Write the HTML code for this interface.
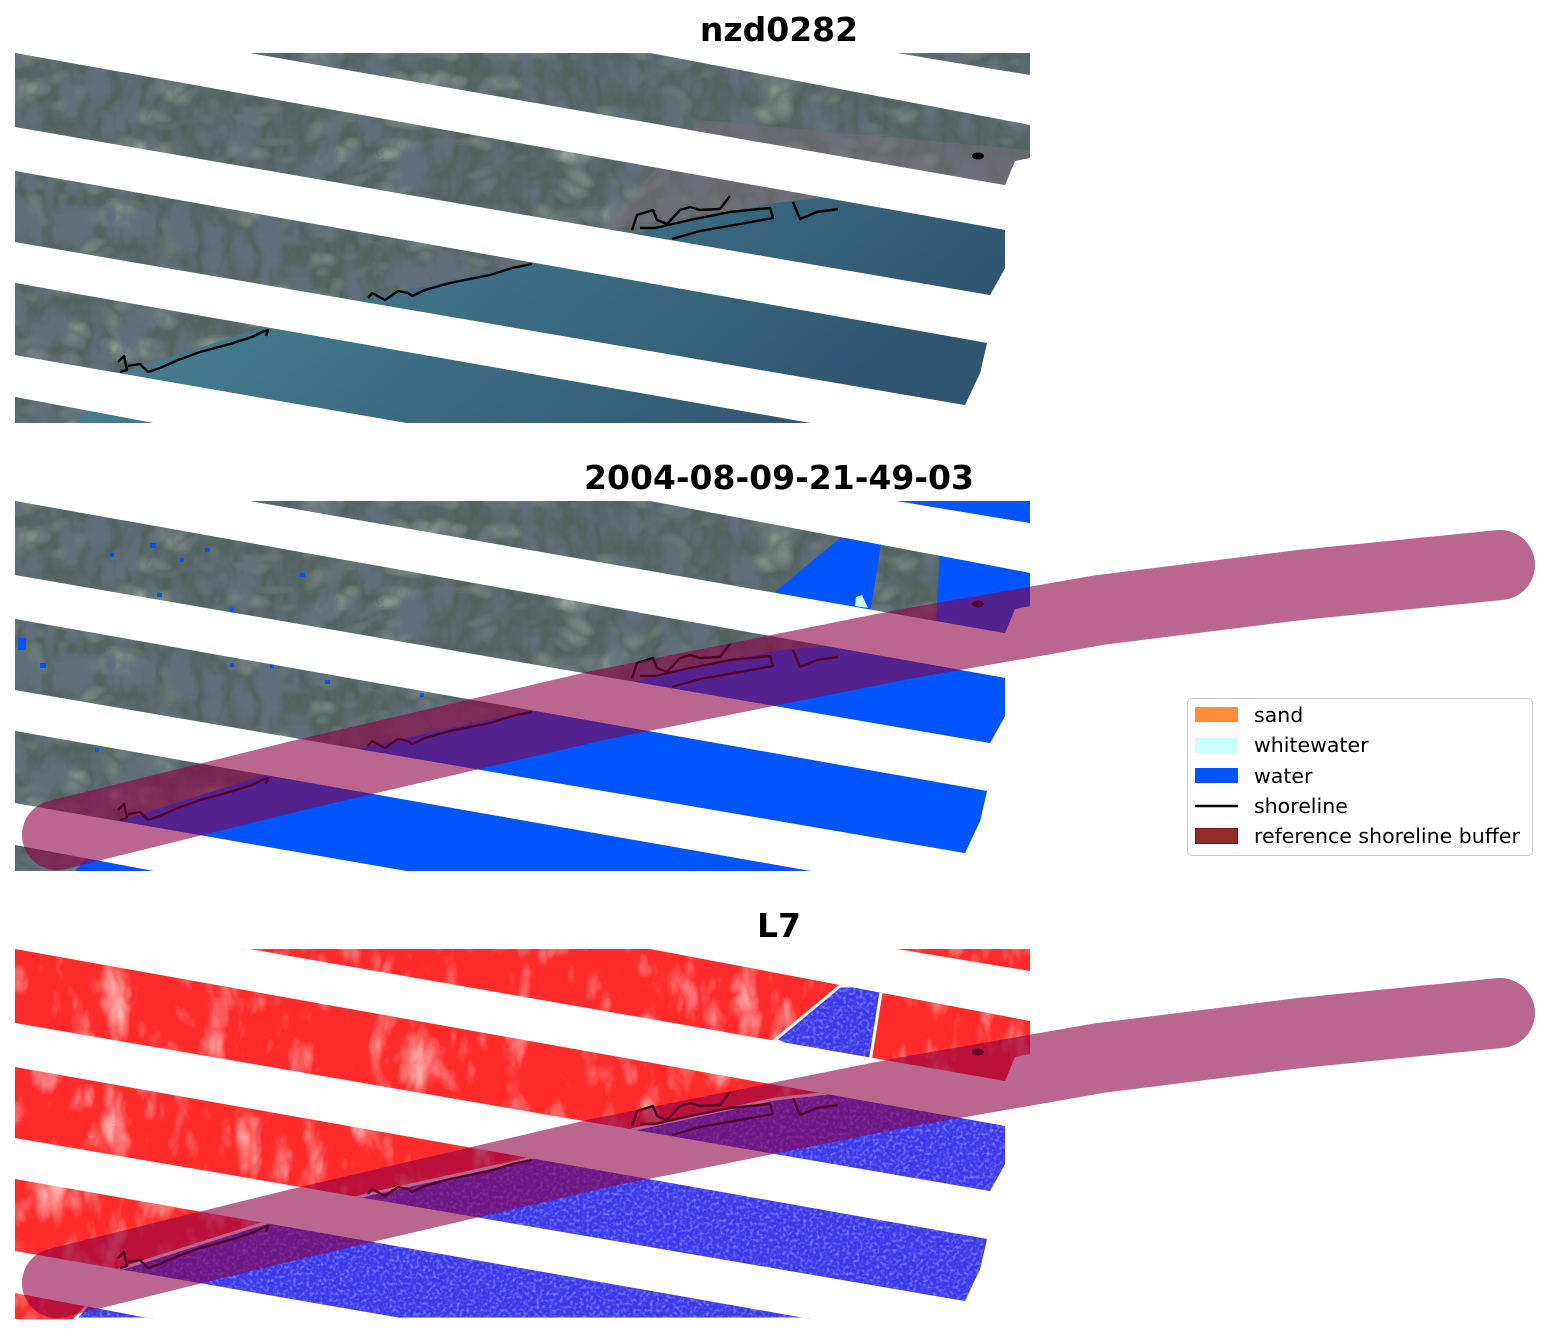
<!DOCTYPE html>
<html><head><meta charset="utf-8"><style>
html,body{margin:0;padding:0;background:#fff;}
svg{display:block;}
text{font-family:"DejaVu Sans","Liberation Sans",sans-serif;}
</style></head><body>
<svg width="1558" height="1337" viewBox="0 0 1558 1337" xmlns="http://www.w3.org/2000/svg">
<defs>
<clipPath id="bands">
<polygon points="897,53 1030,53 1030,75"/>
<polygon points="650,53 1030,125 1030,158 1015,161 1005,185 250,53"/>
<polygon points="15,50 15,53 1005,230 1005,268 990,295 15,127"/>
<polygon points="15,171 987,343 980,373 965,405 15,242"/>
<polygon points="15,283 810,423 407,423 15,355"/>
<polygon points="15,397 153,423 15,423"/>
</clipPath>
<clipPath id="seaClip">
<polygon points="75,423 120,373 255,330 370,298 520,265 635,233 775,203 865,193 1030,188 1030,423"/>
<polygon points="840,90 882,90 870,166 800,154 775,144"/>
</clipPath>
<filter id="dark" x="0" y="0" width="100%" height="100%">
<feTurbulence type="turbulence" baseFrequency="0.035 0.02" numOctaves="3" seed="4"/>
<feColorMatrix type="matrix" values="0 0 0 0 0.12  0 0 0 0 0.16  0 0 0 0 0.2  2.0 0 0 0 -0.1"/>
</filter>
<filter id="bright" x="0" y="0" width="100%" height="100%">
<feTurbulence type="turbulence" baseFrequency="0.02 0.03" numOctaves="2" seed="11"/>
<feColorMatrix type="matrix" values="0 0 0 0 0.55  0 0 0 0 0.62  0 0 0 0 0.5  1.2 0 0 0 -0.3"/>
</filter>
<filter id="light" x="0" y="0" width="100%" height="100%">
<feTurbulence type="turbulence" baseFrequency="0.03 0.015" numOctaves="3" seed="9"/>
<feColorMatrix type="matrix" values="0 0 0 0 1  0 0 0 0 1  0 0 0 0 1  1.2 0 0 0 -0.35"/>
</filter>
<filter id="fine" x="0" y="0" width="100%" height="100%">
<feTurbulence type="fractalNoise" baseFrequency="0.3" numOctaves="2" seed="2"/>
<feColorMatrix type="matrix" values="0 0 0 0 0.8  0 0 0 0 0.8  0 0 0 0 1  1.0 0 0 0 -0.45"/>
</filter>
<linearGradient id="seaG" x1="0" y1="0" x2="1" y2="0.3">
<stop offset="0" stop-color="#4f8c98"/><stop offset="0.5" stop-color="#3d6f86"/><stop offset="1" stop-color="#2f5571"/>
</linearGradient>
<g id="shore" fill="none" stroke="#000" stroke-width="2.4" stroke-linejoin="round">
<path d="M118,362 L124,356 L127,370 L120,372 M128,366 L140,364 L148,372 L160,368 L178,360 L200,352 L230,344 L252,337 L262,332 L268,330 L266,336"/>
<path d="M368,298 L372,293 L385,300 L398,291 L408,293 L412,296 L425,290 L450,283 L490,275 L512,268 L532,264"/>
<path d="M632,230 L637,215 L653,210 L657,220 L667,224 L680,210 L690,207 L700,210 L720,209 L730,196 M640,228 L655,228 L690,220 L730,212 L770,208 L773,218 L740,224 L700,231 L672,239"/>
<path d="M793,202 L800,219 L817,212 L838,209"/>
</g>
</defs>

<text x="779" y="41" text-anchor="middle" font-size="33" font-weight="bold">nzd0282</text>
<text x="779" y="489" text-anchor="middle" font-size="33" font-weight="bold">2004-08-09-21-49-03</text>
<text x="779" y="937" text-anchor="middle" font-size="33" font-weight="bold">L7</text>

<!-- Panel 1 -->
<g>
<g clip-path="url(#bands)">
<rect x="15" y="53" width="1015" height="370" fill="#51625c"/>
<rect x="15" y="53" width="1015" height="370" filter="url(#bright)"/>
<rect x="15" y="53" width="1015" height="370" filter="url(#dark)"/>
<polygon points="700,120 1030,150 1030,190 800,200 600,230" fill="#7a6e78" opacity="0.5"/>
<polygon points="75,423 120,373 255,330 370,298 520,265 635,233 775,203 865,193 1030,188 1030,423" fill="url(#seaG)"/>
</g>
<use href="#shore"/>
<ellipse cx="978" cy="156" rx="6" ry="3.5" fill="#000"/>
</g>

<!-- Panel 2 -->
<g transform="translate(0,448)">
<g clip-path="url(#bands)">
<rect x="15" y="53" width="1015" height="370" fill="#51625c"/>
<rect x="15" y="53" width="1015" height="370" filter="url(#bright)"/>
<rect x="15" y="53" width="1015" height="370" filter="url(#dark)"/>
<polygon points="75,423 120,373 255,330 370,298 520,265 635,233 775,203 865,193 1030,188 1030,423" fill="#0055ff"/>
<polygon points="840,90 882,90 870,166 800,154 775,144" fill="#0055ff"/>
<polygon points="940,100 1030,100 1030,200 935,192" fill="#0055ff"/>
<polygon points="880,53 1030,53 1030,80" fill="#0055ff"/>
<g fill="#0055ff">
<rect x="150" y="95" width="6" height="5"/><rect x="205" y="100" width="5" height="4"/><rect x="180" y="110" width="4" height="4"/>
<rect x="300" y="125" width="5" height="4"/><rect x="230" y="160" width="4" height="6"/><rect x="110" y="105" width="4" height="4"/>
<rect x="18" y="190" width="8" height="12"/><rect x="40" y="215" width="6" height="5"/><rect x="230" y="215" width="4" height="4"/>
<rect x="270" y="215" width="4" height="5"/><rect x="325" y="232" width="5" height="4"/><rect x="95" y="300" width="4" height="4"/>
<rect x="157" y="145" width="5" height="4"/><rect x="420" y="245" width="4" height="4"/>
</g>
<polygon points="856,149 862,147 868,160 855,158" fill="#c8ffff"/>
</g>
<use href="#shore"/>
<ellipse cx="978" cy="156" rx="6" ry="3.5" fill="#000"/>
<path d="M57,835 L300,775 L600,705 L900,645 L1100,610 L1300,585 L1500,565" transform="translate(0,-448)" fill="none" stroke="#8c0044" stroke-width="70" stroke-linecap="round" stroke-linejoin="round" opacity="0.6"/>
</g>

<!-- Panel 3 -->
<g transform="translate(0,896)">
<g clip-path="url(#bands)">
<rect x="15" y="53" width="1015" height="370" fill="#ff2a2a"/>
<rect x="15" y="53" width="1015" height="370" filter="url(#light)"/>
<polygon points="75,423 120,373 255,330 370,298 520,265 635,233 775,203 865,193 1030,188 1030,423" fill="#3a3aec" stroke="#fff" stroke-width="3"/>
<polygon points="840,90 882,90 870,166 800,154 775,144" fill="#3a3aec" stroke="#fff" stroke-width="3"/>
<g clip-path="url(#seaClip)">
<rect x="15" y="53" width="1015" height="370" filter="url(#fine)"/>
</g>
</g>
<use href="#shore"/>
<ellipse cx="978" cy="156" rx="6" ry="3.5" fill="#000"/>
<path d="M57,835 L300,775 L600,705 L900,645 L1100,610 L1300,585 L1500,565" transform="translate(0,-448)" fill="none" stroke="#8c0044" stroke-width="70" stroke-linecap="round" stroke-linejoin="round" opacity="0.6"/>
</g>

<!-- legend -->
<rect x="1187.5" y="698.5" width="345" height="157" rx="4" fill="#fff" stroke="#cccccc"/>
<rect x="1195" y="707" width="43" height="15" fill="#ff8c3a"/>
<rect x="1195" y="738" width="43" height="15" fill="#c8ffff"/>
<rect x="1195" y="768" width="43" height="15" fill="#0055ff"/>
<line x1="1195" y1="806" x2="1238" y2="806" stroke="#000" stroke-width="2.5"/>
<rect x="1195.5" y="828.5" width="42" height="15" fill="#952a2a" stroke="#701515"/>
<g font-size="20.5" fill="#000">
<text x="1254" y="722">sand</text>
<text x="1254" y="752">whitewater</text>
<text x="1254" y="783">water</text>
<text x="1254" y="813">shoreline</text>
<text x="1254" y="843">reference shoreline buffer</text>
</g>
</svg>
</body></html>
